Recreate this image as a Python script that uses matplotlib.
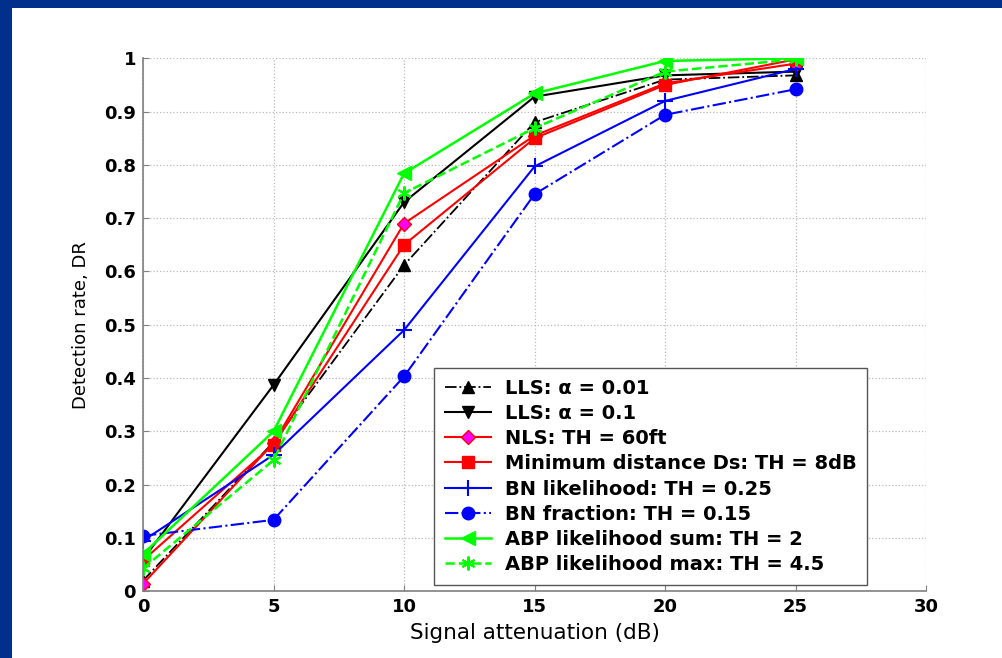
import matplotlib
matplotlib.use("Agg")
import matplotlib.pyplot as plt
from matplotlib.patches import Rectangle

# signal attenuation (dB)
x_db = [0, 5, 10, 15, 20, 25]

lls_001 = [0.02, 0.28, 0.612, 0.88, 0.96, 0.968]
lls_01 = [0.06, 0.387, 0.73, 0.928, 0.968, 0.975]
nls_60ft = [0.014, 0.278, 0.69, 0.855, 0.953, 0.99]
min_dist = [0.058, 0.275, 0.65, 0.85, 0.95, 0.998]
bn_likelihood = [0.095, 0.256, 0.49, 0.797, 0.92, 0.98]
bn_fraction = [0.104, 0.134, 0.403, 0.745, 0.894, 0.942]
abp_sum = [0.07, 0.30, 0.784, 0.934, 0.995, 1.0]
abp_max = [0.043, 0.246, 0.747, 0.869, 0.975, 0.998]

labels = [
    "LLS: α = 0.01",
    "LLS: α = 0.1",
    "NLS: TH = 60ft",
    "Minimum distance Ds: TH = 8dB",
    "BN likelihood: TH = 0.25",
    "BN fraction: TH = 0.15",
    "ABP likelihood sum: TH = 2",
    "ABP likelihood max: TH = 4.5",
]

x_ticks = [0, 5, 10, 15, 20, 25, 30]
y_ticks = [0, 0.1, 0.2, 0.3, 0.4, 0.5, 0.6, 0.7, 0.8, 0.9, 1]
y_tick_labels = ["0", "0.1", "0.2", "0.3", "0.4", "0.5", "0.6", "0.7", "0.8", "0.9", "1"]

plt.rcParams["font.family"] = "DejaVu Sans"

fig = plt.figure(figsize=(10.03, 6.58), dpi=100, facecolor="#00308C")
# white slide area
fig.patches.append(Rectangle((12 / 1003, 0), 1, 1 - 8 / 658, transform=fig.transFigure,
                             facecolor="white", edgecolor="none", zorder=-5))

ax = fig.add_axes([0.1426, 0.1014, 0.7807, 0.81])
ax.set_facecolor("white")

ax.plot(x_db, lls_001, color="black", linestyle="-.", lw=1.3, marker="^", ms=9,
        label=labels[0])
ax.plot(x_db, lls_01, color="black", linestyle="-", lw=1.5, marker="v", ms=9,
        label=labels[1])
ax.plot(x_db, nls_60ft, color="red", linestyle="-", lw=1.5, marker="D", ms=7,
        markerfacecolor="magenta", markeredgecolor="red", label=labels[2])
ax.plot(x_db, min_dist, color="red", linestyle="-", lw=1.5, marker="s", ms=8,
        label=labels[3])
ax.plot(x_db, bn_likelihood, color="blue", linestyle="-", lw=1.5, marker="+", ms=11,
        mew=1.5, label=labels[4])
ax.plot(x_db, bn_fraction, color="blue", linestyle="-.", lw=1.5, marker="o", ms=9,
        label=labels[5])
ax.plot(x_db, abp_sum, color="#00FF00", linestyle="-", lw=1.8, marker="<", ms=10,
        label=labels[6])
ax.plot(x_db, abp_max, color="#00FF00", linestyle="--", lw=1.8, marker=(6, 2, 0), ms=10,
        mew=1.5, label=labels[7])

ax.set_xlim(0, 30)
ax.set_ylim(0, 1)
ax.set_xticks(x_ticks)
ax.set_yticks(y_ticks)
ax.set_yticklabels(y_tick_labels)
ax.tick_params(direction="in", length=4, color="#808080", labelsize=13, pad=5)
for t in ax.get_xticklabels() + ax.get_yticklabels():
    t.set_fontweight("bold")

ax.grid(True, linestyle=":", color="#bbbbbb", lw=0.9)
ax.spines["top"].set_visible(False)
ax.spines["right"].set_visible(False)
ax.spines["left"].set_color("#808080")
ax.spines["bottom"].set_color("#808080")
ax.spines["left"].set_linewidth(1.2)
ax.spines["bottom"].set_linewidth(1.2)

ax.set_xlabel("Signal attenuation (dB)", fontsize=15.5, labelpad=5)
ax.set_ylabel("Detection rate, DR", fontsize=13, labelpad=10)

leg = ax.legend(loc="lower right", bbox_to_anchor=(0.925, 0.012), borderaxespad=0,
                fancybox=False, framealpha=1, edgecolor="#555555", handlelength=2.4,
                handletextpad=0.7, labelspacing=0.32, borderpad=0.55,
                prop={"size": 14, "weight": "bold"})
leg.get_frame().set_linewidth(1.0)

fig.savefig("out.png", dpi=100, facecolor=fig.get_facecolor())
plt.close(fig)
